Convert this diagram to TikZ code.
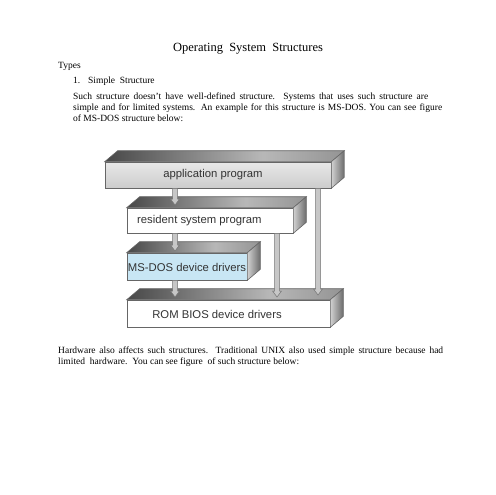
\documentclass[tikz,border=0pt]{standalone}
\usepackage{fontspec}
\setmainfont{Liberation Serif}
\newfontfamily\boxfont{Liberation Sans}
\usetikzlibrary{calc}
\definecolor{msblue}{HTML}{C8E6F4}
\definecolor{edge}{HTML}{666666}
\pgfdeclarehorizontalshading{topsh}{100bp}{color(0bp)=(black!72); color(25bp)=(black!72); color(58bp)=(black!28); color(75bp)=(black!42); color(100bp)=(black!42)}
\tikzset{
  body/.style={anchor=base west, inner sep=0pt, font=\fontsize{9.5}{11}\selectfont},
  front/.style={draw=edge, line width=0.6pt, inner sep=0pt, rectangle},
  topface/.style={shading=topsh, draw=edge, line width=0.6pt},
  sideface/.style={left color=black!18, right color=black!58, draw=edge, line width=0.6pt},
  boxtext/.style={inner sep=0pt, font=\boxfont\fontsize{11.3}{13}\selectfont, text=black!80},
  bararrow/.style={fill=black!22, draw=black!55, line width=0.5pt,
    to path={let \p1=(\tikztostart), \p2=(\tikztotarget) in
      ({\x1-2.5pt},\y1) -- ({\x1-2.5pt},{\y2+6pt}) -- ({\x1-4.5pt},{\y2+6pt}) -- (\x1,\y2)
      -- ({\x1+4.5pt},{\y2+6pt}) -- ({\x1+2.5pt},{\y2+6pt}) -- ({\x1+2.5pt},\y1) -- cycle}}
}
\begin{document}
\begin{tikzpicture}[x=1pt,y=-1pt]
\useasboundingbox[fill=white] (0,0) rectangle (495,495);

% texts
\node[anchor=base, inner sep=0pt, font=\fontsize{12.5}{15}\selectfont] (title) at (248,52) {Operating\ \ System\ \ Structures};
\node[body] (types) at (58,68) {Types};
\node[body] (num) at (73,84) {1.};
\node[body] (simple) at (88,84) {Simple\ \ Structure};
\node[body] (p1) at (73,99) {\makebox[355pt][s]{Such structure doesn't have well-defined structure. Systems that uses such structure are}};
\node[body] (p2) at (73,110) {\makebox[369pt][s]{simple and for limited systems. An example for this structure is MS-DOS. You can see figure}};
\node[body] (p3) at (73,121) {of MS-DOS structure below:};
\node[body] (q1) at (58,353) {\makebox[385pt][s]{Hardware also affects such structures. Traditional UNIX also used simple structure because had}};
\node[body] (q2) at (58,364) {limited\ \ hardware.\ \ You can see figure\ \ of such structure below:};

% boxes (front faces)
\node[front, top color=black!9, bottom color=black!20, minimum width=226pt, minimum height=26pt] (app) at (218,175) {};
\node[front, fill=white, minimum width=166pt, minimum height=25pt] (res) at (210,220.5) {};
\node[front, fill=msblue, minimum width=120pt, minimum height=27pt] (ms) at (187,266.5) {};
\node[front, fill=white, minimum width=203pt, minimum height=27pt] (rom) at (228.5,313.5) {};

% top and side faces
\foreach \b in {app,res,ms,rom}{
  \path[topface] (\b.north west) -- ++(13,-11) -- ($(\b.north east)+(13,-11)$) -- (\b.north east) -- cycle;
  \path[sideface] (\b.north east) -- ++(13,-11) -- ($(\b.south east)+(13,-11)$) -- (\b.south east) -- cycle;
}

% box labels
\node[boxtext] (tapp) at (213,175) {application program};
\node[boxtext, anchor=west] (tres) at (137,220.5) {resident system program};
\node[boxtext] (tms) at (187,267) {MS-DOS device drivers};
\node[boxtext] (trom) at (217,314) {ROM BIOS device drivers};

% arrow tips
\coordinate (t1) at (175,205);
\coordinate (t2) at (175,251);
\coordinate (t3) at (175,297);
\coordinate (t4) at (277,297);
\coordinate (t5) at (318,295);

\draw[bararrow] (app.south -| t1) to (t1);
\draw[bararrow] (res.south -| t2) to (t2);
\draw[bararrow] (ms.south -| t3) to (t3);
\draw[bararrow] (res.south -| t4) to (t4);
\draw[bararrow] (app.south -| t5) to (t5);
\end{tikzpicture}
\end{document}
